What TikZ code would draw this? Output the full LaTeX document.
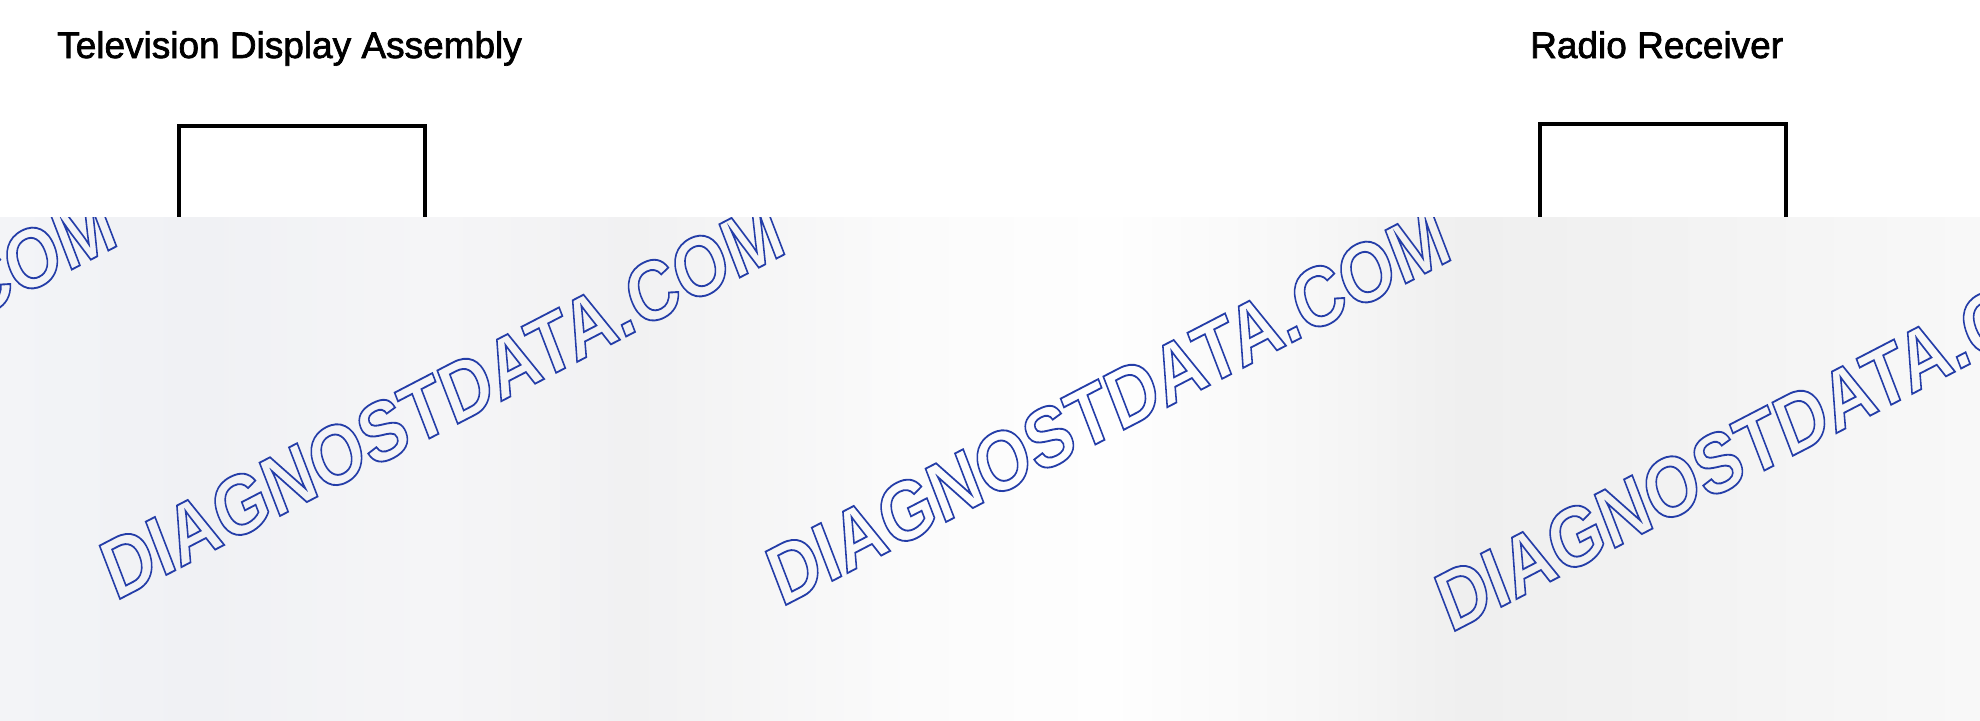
\documentclass[tikz,border=0pt]{standalone}
\usepackage{fontspec}
\setmainfont{Liberation Sans}
\pgfdeclarehorizontalshading{panelshade}{100bp}{rgb(0bp)=(.953,.957,.969); rgb(25bp)=(.953,.957,.969); rgb(30bp)=(.941,.945,.957); rgb(36bp)=(.961,.961,.969); rgb(41bp)=(.945,.945,.949); rgb(48bp)=(.984,.984,.984); rgb(53bp)=(.996,.996,.996); rgb(58bp)=(.969,.969,.969); rgb(62bp)=(.937,.937,.937); rgb(67bp)=(.949,.949,.949); rgb(72bp)=(.965,.965,.965); rgb(75bp)=(.973,.973,.973); rgb(100bp)=(.973,.973,.973)}

\begin{document}
\begin{tikzpicture}[x=1pt, y=-1pt,
	title/.style={font=\fontsize{37}{44}\selectfont, inner sep=0pt, anchor=base west},
	unitbox/.style={draw, line width=4pt, anchor=north west, minimum width=246pt, minimum height=200pt, inner sep=0pt},
	wmtext/.style={font=\fontsize{68}{76}\selectfont\bfseries, inner sep=0pt, cm={0.941,0.488,-0.437,1.138,(0,0)}}]
	\newcommand{\HEAVY}[1]{\special{pdf:literal direct 2 Tr 0.7 w}#1\special{pdf:literal direct 0 Tr}}
	\newcommand{\WMARK}{\special{pdf:literal direct 0.14 0.24 0.66 RG 1 Tr 1.5 w}DIAGNOSTDATA.COM\special{pdf:literal direct 0 Tr}}
	\useasboundingbox (0,0) rectangle (1980,720);
	\fill[white] (0,0) rectangle (1980,720);
	% titles and the two unit outlines
	\node[title] (tvtitle) at (57,58) {\HEAVY{Television Display Assembly}};
	\node[title] (radiotitle) at (1530,58) {\HEAVY{Radio Receiver}};
	\node[unitbox] (tvbox) at (177,124) {};
	\node[unitbox] (radiobox) at (1538,122) {};
	% lower panel with the watermark
	\shade[shading=panelshade] (0,217) rectangle (1980,720);
	\begin{scope}
		\clip (0,217) rectangle (1980,720);
		\node[wmtext] (markA) at (-226,392) {\WMARK};
		\node[wmtext] (markB) at (442,400) {\WMARK};
		\node[wmtext] (markC) at (1108,406) {\WMARK};
		\node[wmtext] (markD) at (1777,432) {\WMARK};
	\end{scope}
\end{tikzpicture}
\end{document}
